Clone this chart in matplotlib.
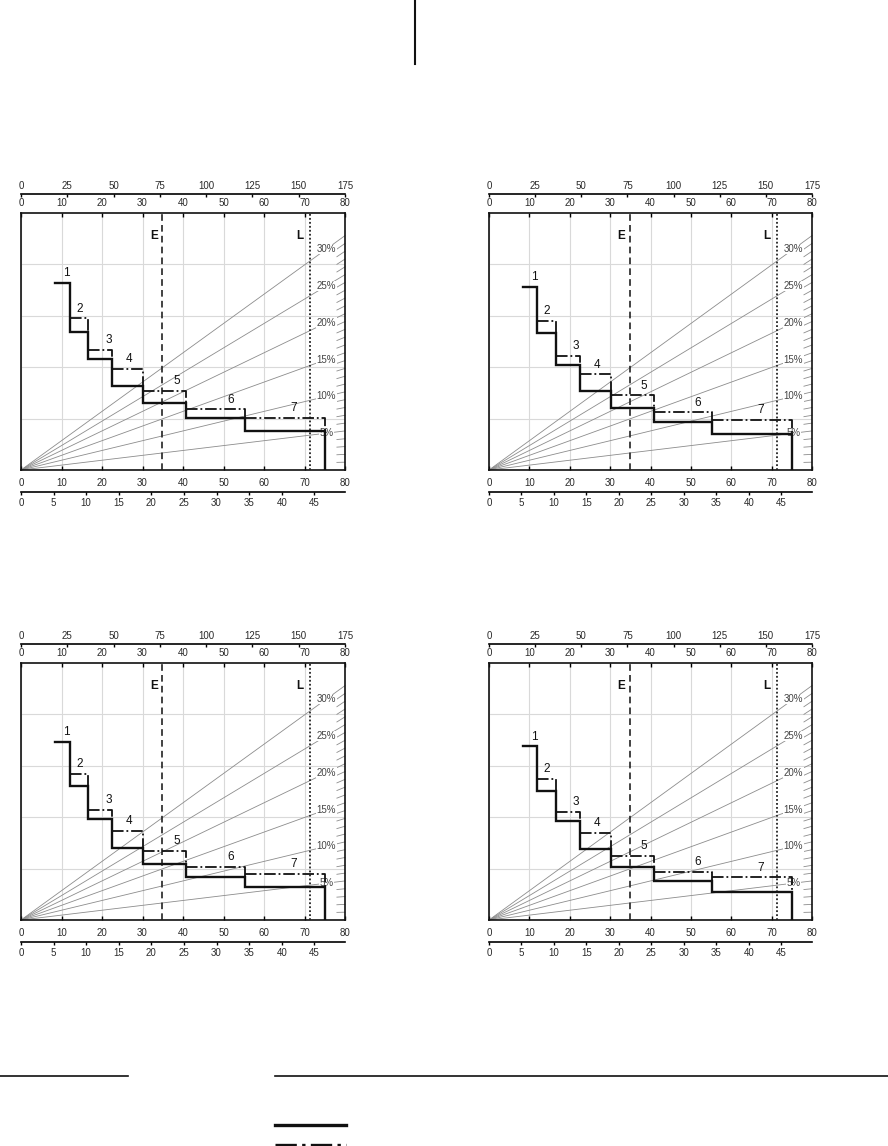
import numpy as np
import matplotlib
matplotlib.use("Agg")
import matplotlib.pyplot as plt
from matplotlib.lines import Line2D

plt.rcParams['font.family'] = ['Liberation Sans', 'DejaVu Sans']

# step boundaries on the speed axis (km/h), same in every panel
step_edges = [8.3, 12.0, 16.6, 22.5, 30.2, 40.8, 55.3, 75.0]
gear_names = ['1', '2', '3', '4', '5', '6', '7']

# full load level of each gear (solid) and partial level for gears 2..7 (dash-dot)
p1_full = [36.4, 26.9, 21.6, 16.4, 13.0, 10.1, 7.5]
p1_part = [29.5, 23.4, 19.6, 15.4, 11.8, 10.1]
p2_full = [35.7, 26.6, 20.4, 15.4, 12.1, 9.4, 7.0]
p2_part = [29.0, 22.2, 18.6, 14.5, 11.2, 9.7]
p3_full = [34.7, 26.0, 19.7, 14.1, 10.9, 8.4, 6.4]
p3_part = [28.4, 21.4, 17.4, 13.4, 10.3, 9.0]
p4_full = [33.8, 25.1, 19.2, 13.8, 10.3, 7.5, 5.5]
p4_part = [27.5, 21.0, 17.0, 12.5, 9.4, 8.3]

speed_e = 34.9
speed_l = 71.3

grade_major = [5, 10, 15, 20, 25, 30]
grade_all = list(range(1, 31))
grade_slope = 0.019   # y units per % per km/h

top_factor = 175 / 80.0     # upper scale
mph_factor = 0.6214         # lower scale
top_ticks = [0, 25, 50, 75, 100, 125, 150, 175]
mph_ticks = [0, 5, 10, 15, 20, 25, 30, 35, 40, 45]
kmh_ticks = [0, 10, 20, 30, 40, 50, 60, 70, 80]

# layout only: where the gear numbers sit along x
label_x = [11.3, 14.4, 21.6, 26.7, 38.4, 51.8, 67.4]

W, H = 888, 1146
fig = plt.figure(figsize=(W / 100, H / 100), dpi=100)

def px_axes(left, right, top, bottom):
    return fig.add_axes([left / W, 1 - bottom / H, (right - left) / W, (bottom - top) / H])

GRID = '#d9d9d9'
RAY = '#8c8c8c'
TXT = '#2a2a2a'
FS = 7

def draw_panel(ax, full, part):
    ax.set_xlim(0, 80)
    ax.set_ylim(0, 50)
    for s in ax.spines.values():
        s.set_linewidth(1.2)
        s.set_color('#111111')

    ax.set_xticks(kmh_ticks)
    ax.set_yticks([10, 20, 30, 40])
    ax.grid(True, color=GRID, linewidth=0.8, zorder=0)
    ax.set_axisbelow(True)
    ax.tick_params(axis='x', direction='in', length=3, width=1.0, top=True, bottom=True,
                   labeltop=False, labelbottom=True, labelsize=FS, labelcolor=TXT, pad=5.5)
    ax.tick_params(axis='y', length=0, labelleft=False)

    # inner top labels (same km/h scale)
    sec_in = ax.secondary_xaxis('top')
    sec_in.set_xticks(kmh_ticks)
    sec_in.tick_params(length=0, labelsize=FS, labelcolor=TXT, pad=3.5)
    sec_in.spines['top'].set_visible(False)

    # outer top scale
    sec_top = ax.secondary_xaxis(1 + 19 / 257,
                                 functions=(lambda x: x * top_factor, lambda x: x / top_factor))
    sec_top.set_xticks(top_ticks)
    sec_top.tick_params(direction='in', length=2.5, width=1.0, labelsize=FS,
                        labelcolor=TXT, pad=2.5)
    sec_top.spines['top'].set_linewidth(1.2)

    # outer bottom scale
    sec_bot = ax.secondary_xaxis(-22 / 257,
                                 functions=(lambda x: x * mph_factor, lambda x: x / mph_factor))
    sec_bot.set_xticks(mph_ticks)
    sec_bot.tick_params(direction='out', length=2.5, width=1.0, labelsize=FS,
                        labelcolor=TXT, pad=2)
    sec_bot.spines['bottom'].set_linewidth(1.2)

    # grade rays and scale ticks on the right edge
    for g in grade_all:
        if g in grade_major:
            xs = np.array([0, 80])
        else:
            xs = np.array([78, 80])
        ax.plot(xs, grade_slope * g * xs, color=RAY, linewidth=0.6, zorder=1,
                clip_on=False)
    for g in grade_major:
        ax.text(75.4, grade_slope * g * 75.4, f'{g}%', fontsize=FS, color='#444444',
                ha='center', va='center', zorder=2,
                bbox=dict(facecolor='white', edgecolor='none', pad=0.3))

    # E and L markers
    ax.axvline(speed_e, color='#222222', linewidth=1.2, linestyle=(0, (4, 2.5)), zorder=3)
    ax.axvline(speed_l, color='#222222', linewidth=1.3, linestyle=(0, (1, 1.2)), zorder=3)
    ax.text(speed_e - 2.1, 45.5, 'E', fontsize=8.5, fontweight='bold', ha='center',
            va='center', color='#111111')
    ax.text(speed_l - 2.5, 45.5, 'L', fontsize=8.5, fontweight='bold', ha='center',
            va='center', color='#111111')

    # solid staircase
    xs = np.repeat(step_edges, 2)[1:]
    ys = np.append(np.repeat(full, 2), 0)
    ax.plot(xs, ys, color='#111111', linewidth=1.7, zorder=5, solid_joinstyle='miter')

    # dash-dot partial levels for gears 2..7
    for i, lvl in enumerate(part, start=1):
        x0, x1 = step_edges[i], step_edges[i + 1]
        ax.plot([x0, x1, x1], [lvl, lvl, full[i]], color='#111111', linewidth=1.3,
                linestyle='-.', zorder=4)

    # gear numbers
    tops = [full[0]] + list(part)
    for name, lx, lvl in zip(gear_names, label_x, tops):
        ax.text(lx, lvl + 1.9, name, fontsize=8.5, ha='center', va='center', color='#111111',
                zorder=6)

panels = [
    ((21, 345, 213, 470), p1_full, p1_part),
    ((489, 812, 213, 470), p2_full, p2_part),
    ((21, 345, 663, 920), p3_full, p3_part),
    ((489, 812, 663, 920), p4_full, p4_part),
]
for box, full, part in panels:
    draw_panel(px_axes(*box), full, part)

# page rules around the figure
def rule(x0, y0, x1, y1, lw, ls='-'):
    fig.add_artist(Line2D([x0 / W, x1 / W], [1 - y0 / H, 1 - y1 / H], color='#111111',
                          linewidth=lw, linestyle=ls, transform=fig.transFigure))

rule(415, 0, 415, 64, 1.5)
rule(0, 1076, 128, 1076, 1.2)
rule(275, 1076, 888, 1076, 1.2)
rule(275, 1125, 346, 1125, 2.4)
rule(275, 1145, 346, 1145, 2.4, '-.')

fig.savefig('out.png', dpi=100)
